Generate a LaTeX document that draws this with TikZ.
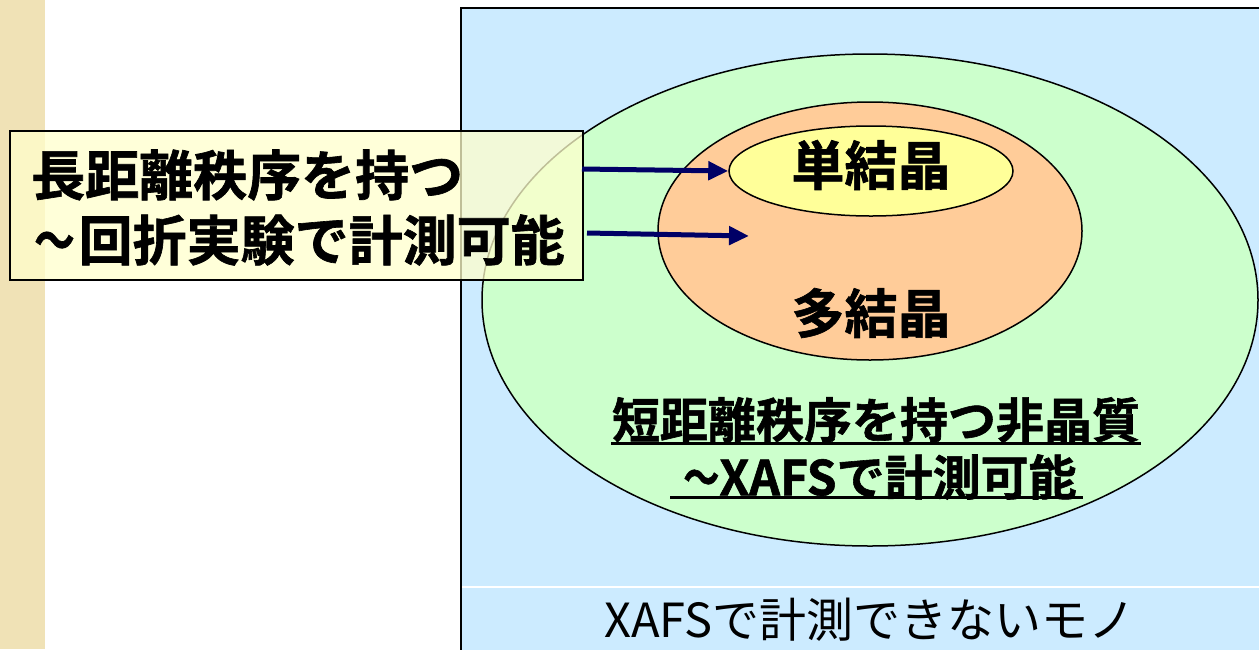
\documentclass[tikz,border=0pt]{standalone}
\usepackage{fontspec}
\newfontfamily\jp{Noto Sans CJK JP}[BoldFont={Noto Sans CJK JP Bold}, BoldFeatures={FakeBold=1.2}]
\usetikzlibrary{arrows.meta,shapes.geometric}
\definecolor{strip}{HTML}{F0E2B6}
\definecolor{skyfill}{HTML}{CCEBFF}
\definecolor{greenfill}{HTML}{CCFFCC}
\definecolor{orangefill}{HTML}{FFCC99}
\definecolor{yellowfill}{HTML}{FFFF99}
\definecolor{boxfill}{HTML}{FFFFCC}
\definecolor{navy}{HTML}{000066}
\newcommand{\narrowtilde}{\scalebox{0.75}[1]{～}}
\tikzset{
  oval/.style={ellipse, draw=black, line width=1.5pt, inner sep=0pt},
  bigtext/.style={font=\jp\bfseries\fontsize{53}{56}\selectfont, inner sep=0pt},
  labtext/.style={font=\jp\bfseries\fontsize{54}{60}\selectfont, inner sep=0pt, anchor=west},
  amtext/.style={font=\jp\bfseries\fontsize{48}{54}\selectfont, inner sep=0pt},
  plaintext/.style={font=\jp\fontsize{47}{50}\selectfont, inner sep=0pt},
  pointer/.style={draw=navy, line width=5pt, -{Triangle[length=20pt,width=18pt]}},
  uline/.style={line width=3pt, black},
}
\begin{document}
\begin{tikzpicture}[x=1pt,y=-1pt]
\useasboundingbox (0,0) rectangle (1259,649);
\clip (0,0) rectangle (1259,649);
% left strip
\fill[strip] (0,0) rectangle (45,649);
% outer sky box
\draw[fill=skyfill, line width=2.5pt] (461,8) rectangle (1275,665);
\draw[white, line width=1.5pt] (462,587) -- (1259,587);
% ellipses
\node[oval, fill=greenfill, minimum width=776pt, minimum height=492pt] (amorph) at (870,300) {};
\node[oval, fill=orangefill, minimum width=424pt, minimum height=258pt] (poly) at (870,231) {};
\node[oval, fill=yellowfill, minimum width=284pt, minimum height=90pt] (single) at (871,171) {};
% texts in ellipses
\node[bigtext] (tsingle) at (871,165) {単結晶};
\node[bigtext] (tpoly) at (871,313) {多結晶};
\node[amtext] (tam1) at (876,420) {短距離秩序を持つ非晶質};
\node[amtext] (tam2) at (880,477) {\narrowtilde XAFSで計測可能};
\draw[uline] (611,443) -- (1141,443);
\draw[uline] (670,497) -- (1083,497);
% bottom text
\node[plaintext] (tno) at (870,620) {XAFSで計測できないモノ};
% label box
\draw[fill=boxfill, fill opacity=0.75, line width=1.5pt] (10,131) rectangle (583,280);
\node[labtext] (lab1) at (31,175) {長距離秩序を持つ};
\node[labtext] (lab2) at (34,240) {\narrowtilde\hspace{4pt}回折実験で計測可能};
% arrows
\coordinate (a1s) at (582,169);
\coordinate (a2s) at (587,233);
\coordinate (a2e) at (749,236);
\draw[pointer] (a1s) -- (single.west);
\draw[pointer] (a2s) -- (a2e);
\end{tikzpicture}
\end{document}
